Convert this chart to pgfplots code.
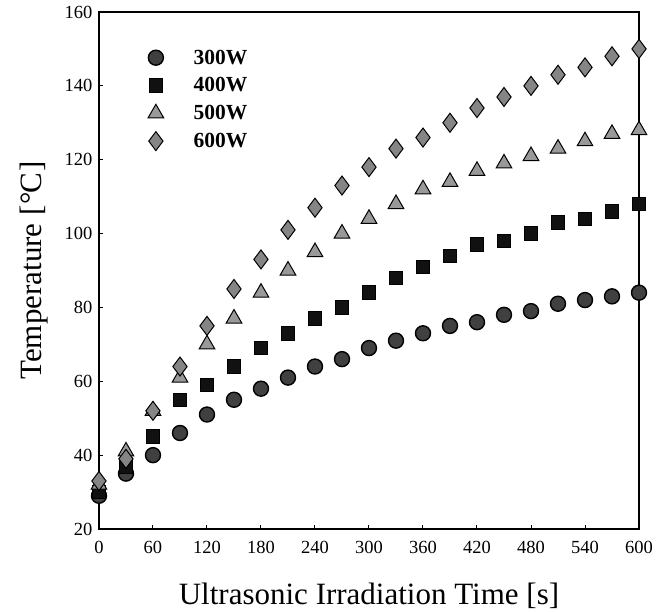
\documentclass[border=0pt]{standalone}
\usepackage{pgfplots}
\pgfplotsset{compat=1.18}
\usepackage{fontspec}
\setmainfont{Liberation Serif}
\definecolor{cA}{HTML}{404040}
\definecolor{cB}{HTML}{111111}
\definecolor{cC}{HTML}{999999}
\definecolor{cD}{HTML}{858585}
\begin{document}
\begin{tikzpicture}[x=1pt,y=1pt]
\begin{axis}[
  scale only axis,
  width=540pt, height=517pt,
  xmin=0, xmax=600, ymin=20, ymax=160,
  xtick={0,60,...,600}, ytick={20,40,...,160},
  tick pos=left, tick align=inside,
  major tick length=4pt,
  tick style={line width=1pt, black},
  axis line style={line width=1.6pt},
  /pgf/number format/assume math mode=true,
  ticklabel style={font=\fontsize{18.5}{20}\selectfont},
  xticklabel style={yshift=-9pt},
  yticklabel style={xshift=-3pt},
  xlabel={Ultrasonic Irradiation Time [s]},
  ylabel={Temperature [\kern1pt°\kern-1.5pt C\kern1pt]},
  label style={font=\fontsize{31}{34}\selectfont},
  xlabel style={yshift=-22pt},
  ylabel style={yshift=10pt},
  clip=false,
  legend style={draw=none, fill=none, at={(0.085,0.935)}, anchor=north west,
    font=\bfseries\fontsize{21.5}{23}\selectfont, row sep=8pt,
    legend cell align=left},
  legend image code/.code={\draw[#1] plot coordinates {(0.3cm,0cm)};},
]
\path (rel axis cs:-0.1833,-0.1586) rectangle (rel axis cs:1.05,1.0232);
\addplot[only marks, mark=*, mark size=7.5pt, mark options={fill=cA, draw=black, line width=1.4pt}]
coordinates {(0,29)(30,35)(60,40)(90,46)(120,51)(150,55)(180,58)(210,61)(240,64)(270,66)(300,69)(330,71)(360,73)(390,75)(420,76)(450,78)(480,79)(510,81)(540,82)(570,83)(600,84)};
\addlegendentry{\hspace{28pt}300W}
\addplot[only marks, mark=square*, mark size=6.8pt, mark options={fill=cB, draw=black, line width=0.8pt}]
coordinates {(0,30)(30,37)(60,45)(90,55)(120,59)(150,64)(180,69)(210,73)(240,77)(270,80)(300,84)(330,88)(360,91)(390,94)(420,97)(450,98)(480,100)(510,103)(540,104)(570,106)(600,108)};
\addlegendentry{\hspace{28pt}400W}
\addplot[only marks, mark=triangle*, mark size=9pt, mark options={fill=cC, draw=black, line width=1pt}]
coordinates {(0,32)(30,41)(60,52)(90,61)(120,70)(150,77)(180,84)(210,90)(240,95)(270,100)(300,104)(330,108)(360,112)(390,114)(420,117)(450,119)(480,121)(510,123)(540,125)(570,127)(600,128)};
\addlegendentry{\hspace{28pt}500W}
\addplot[only marks, mark=diamond*, mark size=9.5pt, mark options={fill=cD, draw=black, line width=1pt}]
coordinates {(0,33)(30,39)(60,52)(90,64)(120,75)(150,85)(180,93)(210,101)(240,107)(270,113)(300,118)(330,123)(360,126)(390,130)(420,134)(450,137)(480,140)(510,143)(540,145)(570,148)(600,150)};
\addlegendentry{\hspace{28pt}600W}
\end{axis}
\end{tikzpicture}
\end{document}
